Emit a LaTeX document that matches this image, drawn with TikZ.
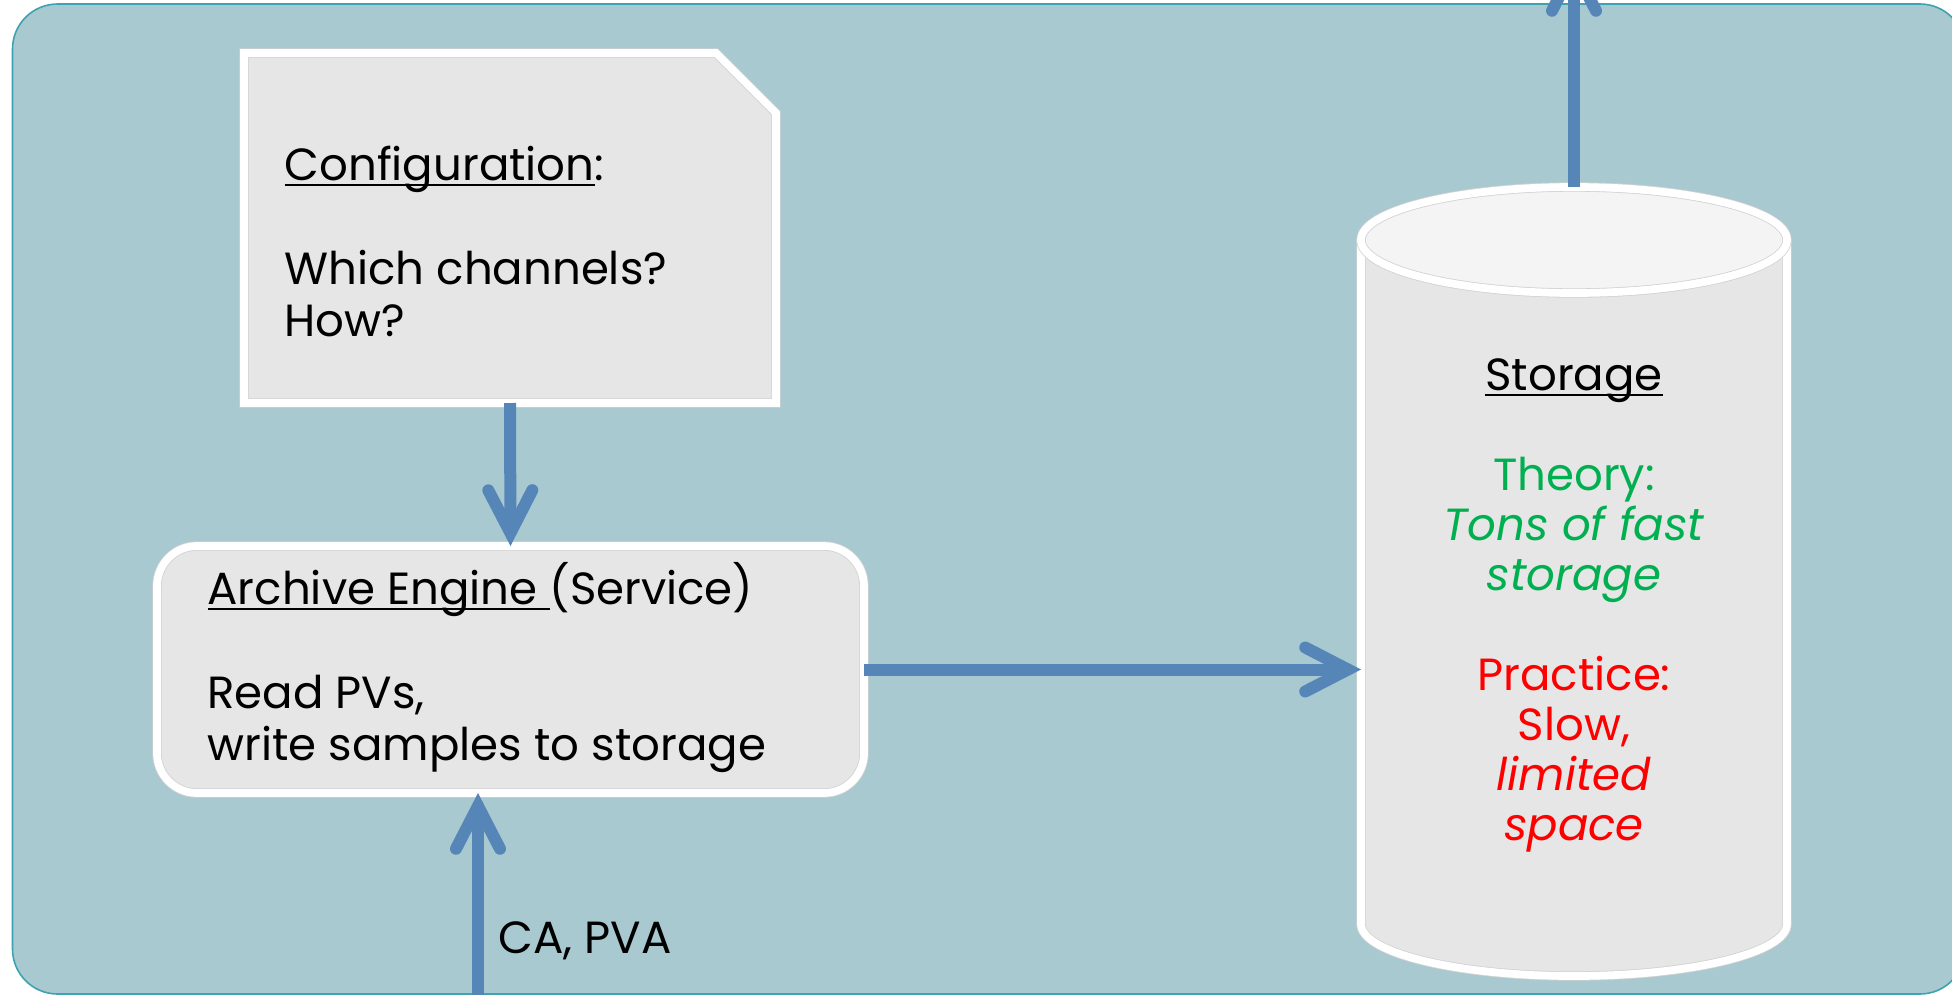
\documentclass[tikz,border=0pt]{standalone}
\usepackage{fontspec}
\setmainfont{Poppins}
\usetikzlibrary{arrows.meta,fit}
\definecolor{bgfill}{HTML}{A7C9CF}
\definecolor{bgedge}{HTML}{3FA2B0}
\definecolor{boxgray}{HTML}{E6E6E6}
\definecolor{topgray}{HTML}{F4F4F4}
\definecolor{edgegray}{HTML}{D2D2D2}
\definecolor{arrowblue}{RGB}{86,134,184}
\definecolor{thgreen}{HTML}{00B050}
\definecolor{prred}{HTML}{FF0000}
\newsavebox\ulbox
\newcommand{\myul}[1]{\sbox\ulbox{#1}\rlap{\rule[-2.25pt]{\wd\ulbox}{0.75pt}}\usebox\ulbox}
\tikzset{
  box/.style={fill=boxgray, draw=edgegray, line width=0.3pt, double=white, double distance=2.9pt},
  flow/.style={draw=arrowblue, line width=4.5pt, -{Straight Barb[length=16pt,width=16.5pt,line cap=round,line join=miter]}},
  txt/.style={inner sep=0pt, font=\fontsize{16.9}{19.5}\selectfont},
  frame/.style={inner sep=0pt, outer sep=0pt}
}
\begin{document}
\begin{tikzpicture}[x=0.375pt,y=-0.375pt]
\useasboundingbox (0,0) rectangle (1952,994);
\clip (0,0) rectangle (1952,994);
% background panel
\draw[fill=bgfill, draw=bgedge, line width=0.6pt, rounded corners=16.9pt] (12.5,4) rectangle (1965,994);

% configuration box
\node[frame, fit={(244,53) (776,403)}] (config) {};
\draw[box] (244,53) -- (716,53) -- (776,113) -- (776,403) -- (244,403) -- cycle;
% anchor = baseline of the last line
\node[txt, anchor=base west, align=left] (configtext) at (284,336)
  {\myul{Configuration}:\\[19.5pt]Which channels?\\How?};

% archive engine box
\node[box, frame, fit={(157,546) (864,793)}, rounded corners=15pt] (archive) {};
\node[txt, anchor=base west, align=left] (archivetext) at (207,760)
  {\myul{Archive Engine }(Service)\\[19.5pt]Read PVs,\\write samples to storage};

% storage cylinder
\fill[boxgray] (1361,240) -- (1361,924) arc[start angle=180,end angle=0,x radius=213,y radius=52] -- (1787,240) -- cycle;
\draw[box, fill=none] (1361,240) -- (1361,924) arc[start angle=180,end angle=0,x radius=213,y radius=52] -- (1787,240);
\draw[box, fill=topgray] (1574,240) ellipse [x radius=213, y radius=53];
\node[frame, fit={(1361,187) (1787,976)}] (storage) {};
\node[inner sep=0pt, font=\fontsize{16.9}{18.75}\selectfont, anchor=base, align=center] (storagetext) at (1574,840)
  {\myul{Storage}\\[18.75pt]
   \textcolor{thgreen}{Theory:}\\
   \textcolor{thgreen}{\textit{Tons of fast}}\\
   \textcolor{thgreen}{\textit{storage}}\\[18.75pt]
   \textcolor{prred}{Practice:}\\
   \textcolor{prred}{Slow,}\\
   \textcolor{prred}{\textit{limited}}\\
   \textcolor{prred}{\textit{space}}};

% connectors
\draw[flow] (config.south) -- (archive.north);
\draw[flow] (archive.east) -- (archive.east -| storage.west);
\coordinate (topout) at (1574,-45);
\draw[flow] (storage.north) -- (topout);
\coordinate (botin) at (478,1010);
\draw[flow] (botin) -- (botin |- archive.south);
\node[txt, anchor=base west] (calabel) at (498,953) {CA, PVA};
\end{tikzpicture}
\end{document}
